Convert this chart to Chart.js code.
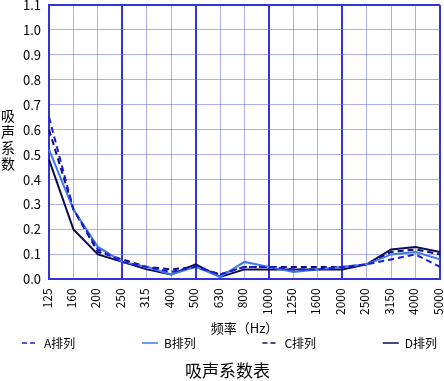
<!DOCTYPE html>
<html>
<head>
<meta charset="utf-8">
<script src="https://cdn.jsdelivr.net/npm/chart.js@4"></script>
<style>
  html, body { margin: 0; padding: 0; background: #fff; }
  #wrap { width: 444px; height: 381px; }
</style>
</head>
<body>
<div id="wrap"><canvas id="absorb" width="444" height="381"></canvas></div>
<script>
const freqLabels = ["125", "160", "200", "250", "315", "400", "500", "630", "800", "1000", "1250", "1600", "2000", "2500", "3150", "4000", "5000"];
const seriesNames = ["A排列", "B排列", "C排列", "D排列"];
const rowA = [0.65, 0.28, 0.12, 0.07, 0.05, 0.03, 0.05, 0.02, 0.05, 0.05, 0.04, 0.04, 0.05, 0.06, 0.08, 0.10, 0.05];
const rowB = [0.52, 0.28, 0.13, 0.07, 0.05, 0.02, 0.05, 0.01, 0.07, 0.05, 0.03, 0.04, 0.05, 0.06, 0.10, 0.11, 0.08];
const rowC = [0.60, 0.28, 0.11, 0.08, 0.05, 0.04, 0.05, 0.02, 0.05, 0.05, 0.05, 0.05, 0.05, 0.06, 0.11, 0.12, 0.10];
const rowD = [0.48, 0.20, 0.10, 0.07, 0.04, 0.02, 0.06, 0.01, 0.04, 0.04, 0.04, 0.04, 0.04, 0.06, 0.12, 0.13, 0.11];
const majorFreqs = ["250", "500", "1000", "2000"];

const FONT = "'Noto Sans CJK SC', 'DejaVu Sans', sans-serif";
const frameColor = "#3434d6";
const gridColor = "rgba(110, 110, 215, 0.55)";

// legend along the bottom + stacked y title
const extras = {
  id: "extras",
  afterDraw(chart) {
    const ctx = chart.ctx;
    ctx.save();
    ctx.fillStyle = "#000";
    ctx.font = "14px " + FONT;
    ctx.textAlign = "center";
    ctx.textBaseline = "middle";
    "吸声系数".split("").forEach((ch, i) => ctx.fillText(ch, 8, 116 + i * 16));

    ctx.font = "12px " + FONT;
    ctx.textAlign = "left";
    const sets = chart.data.datasets;
    const sample = 16, gap = 6, y = 343;
    const widths = sets.map(ds => sample + gap + ctx.measureText(ds.label).width);
    const left = 22, right = 437;
    const space = (right - left - widths.reduce((a, b) => a + b, 0)) / (sets.length - 1);
    let x = left;
    sets.forEach((ds, i) => {
      ctx.strokeStyle = ds.borderColor;
      ctx.lineWidth = 1.5;
      ctx.setLineDash(ds.borderDash ? [5, 3] : []);
      ctx.beginPath();
      ctx.moveTo(x, y);
      ctx.lineTo(x + sample, y);
      ctx.stroke();
      ctx.setLineDash([]);
      ctx.fillText(ds.label, x + sample + gap, y);
      x += widths[i] + space;
    });
    ctx.restore();
  }
};

new Chart(document.getElementById("absorb"), {
  type: "line",
  data: {
    labels: freqLabels,
    datasets: [
      { label: seriesNames[0], data: rowA, borderColor: "#1c1cd8", borderDash: [6, 4] },
      { label: seriesNames[1], data: rowB, borderColor: "#3b78f0" },
      { label: seriesNames[2], data: rowC, borderColor: "#0c0c7a", borderDash: [6, 4] },
      { label: seriesNames[3], data: rowD, borderColor: "#0a0a55" }
    ].map(ds => Object.assign(ds, { borderWidth: 2, pointRadius: 0, tension: 0, fill: false }))
  },
  options: {
    responsive: false,
    animation: false,
    layout: { padding: { left: 15, right: 4, top: 5, bottom: 0 } },
    plugins: {
      legend: { display: false },
      tooltip: { enabled: false },
      title: {
        display: true,
        position: "bottom",
        text: "吸声系数表",
        color: "#000",
        font: { family: FONT, size: 17, weight: "normal" },
        padding: { top: 25, bottom: 0 }
      }
    },
    scales: {
      x: {
        offset: false,
        afterFit: s => { s.paddingLeft = 0; s.paddingRight = 0; },
        grid: {
          color: ctx => (majorFreqs.includes(freqLabels[ctx.index]) || ctx.index === freqLabels.length - 1) ? frameColor : gridColor,
          lineWidth: ctx => (majorFreqs.includes(freqLabels[ctx.index]) || ctx.index === freqLabels.length - 1) ? 2 : 1,
          drawTicks: false
        },
        border: { color: frameColor, width: 2 },
        ticks: {
          color: "#000",
          font: { family: FONT, size: 12 },
          minRotation: 90,
          maxRotation: 90,
          autoSkip: false,
          padding: 9,
          labelOffset: -2
        },
        title: {
          display: true,
          text: "频率（Hz）",
          color: "#000",
          font: { family: FONT, size: 13 },
          padding: { top: -4, bottom: 0 }
        }
      },
      y: {
        min: 0,
        max: 1.1,
        afterFit: s => { s.paddingTop = 0; s.paddingBottom = 0; },
        grid: {
          color: ctx => ctx.index === 11 ? frameColor : gridColor,
          lineWidth: ctx => ctx.index === 11 ? 2 : 1,
          drawTicks: false
        },
        border: { color: frameColor, width: 2 },
        ticks: {
          stepSize: 0.1,
          color: "#000",
          font: { family: FONT, size: 13 },
          padding: 8,
          callback: v => Number(v).toFixed(1)
        }
      }
    }
  },
  plugins: [extras]
});
</script>
</body>
</html>
